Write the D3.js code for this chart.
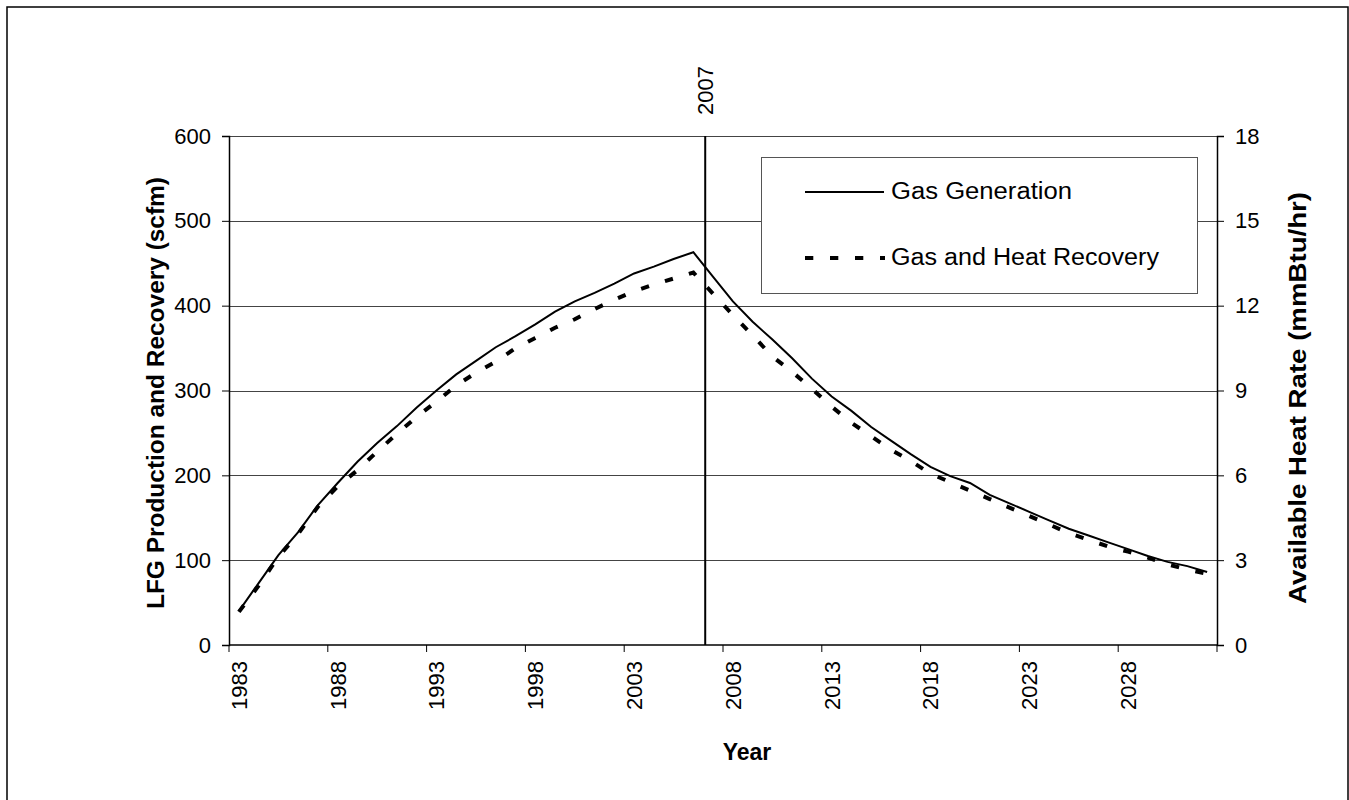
<!DOCTYPE html>
<html>
<head>
<meta charset="utf-8">
<script src="https://cdn.jsdelivr.net/npm/d3@7"></script>
<style>
  html, body { margin: 0; padding: 0; background: #fff; }
  svg text { font-family: Arial, "Liberation Sans", sans-serif; fill: #000; }
</style>
</head>
<body>
<svg id="chart" width="1349" height="800"></svg>
<script>
// ---- data ----
const years = d3.range(1983, 2033); // 1983..2032 categories
const tickYears = [1983, 1988, 1993, 1998, 2003, 2008, 2013, 2018, 2023, 2028];
const gasGeneration = [40, 73, 106, 133, 165, 191, 216, 238, 258, 280,
  300, 319, 335, 351, 364, 378, 393, 405, 415, 426,
  438, 446, 455, 463, 434, 405, 381, 360, 338, 314,
  293, 276, 257, 241, 225, 210, 199, 191, 177, 167,
  157, 147, 137, 129, 121, 113, 105, 98, 93, 86];
// Gas and Heat Recovery, read on the right axis (mmBtu/hr)
const heatRecovery = [1.17, 2.10, 3.12, 3.93, 4.89, 5.61, 6.18, 6.84, 7.47, 8.07,
  8.61, 9.18, 9.63, 10.02, 10.50, 10.86, 11.22, 11.52, 11.88, 12.21,
  12.51, 12.75, 12.96, 13.17, 12.42, 11.67, 10.95, 10.20, 9.66, 9.06,
  8.43, 7.86, 7.38, 6.90, 6.51, 6.06, 5.76, 5.46, 5.16, 4.86,
  4.56, 4.26, 3.96, 3.72, 3.48, 3.30, 3.09, 2.85, 2.67, 2.52];
const leftTicks = [0, 100, 200, 300, 400, 500, 600];
const rightTicks = [0, 3, 6, 9, 12, 15, 18];
const markerYear = 2007;
const seriesNames = ["Gas Generation", "Gas and Heat Recovery"];

// ---- layout ----
const FONT = "Arial, 'Liberation Sans', sans-serif";
const svg = d3.select("#chart");
const L = 229, R = 1217, T = 136, B = 645;

svg.append("rect").attr("x", 7).attr("y", 7).attr("width", 1341).attr("height", 800)
  .attr("fill", "#fff").attr("stroke", "#000").attr("stroke-width", 1.5);

const x = d3.scaleBand().domain(years).range([L, R]).paddingInner(0).paddingOuter(0);
const xc = d => x(d) + x.bandwidth() / 2;
const yL = d3.scaleLinear().domain([0, 600]).range([B, T]);
const yR = d3.scaleLinear().domain([0, 18]).range([B, T]);

// gridlines
svg.append("g").selectAll("line").data(leftTicks.filter(v => v > 0)).join("line")
  .attr("x1", L).attr("x2", R)
  .attr("y1", d => Math.round(yL(d)) + 0.5).attr("y2", d => Math.round(yL(d)) + 0.5)
  .attr("stroke", "#444").attr("stroke-width", 1);

// left axis
const gL = svg.append("g").attr("transform", `translate(${L},0)`)
  .call(d3.axisLeft(yL).tickValues(leftTicks).tickSize(7).tickPadding(11).tickFormat(d3.format("d")));
gL.select(".domain").attr("stroke", "#000").attr("stroke-width", 1.5);
gL.selectAll(".tick line").attr("stroke", "#000");
gL.selectAll("text").attr("font-size", 22).attr("font-family", FONT);

// right axis
const gR = svg.append("g").attr("transform", `translate(${R},0)`)
  .call(d3.axisRight(yR).tickValues(rightTicks).tickSize(7).tickPadding(11).tickFormat(d3.format("d")));
gR.select(".domain").attr("stroke", "#000").attr("stroke-width", 1.5);
gR.selectAll(".tick line").attr("stroke", "#000");
gR.selectAll("text").attr("font-size", 22).attr("font-family", FONT);

// bottom axis: ticks at category boundaries
const xb = d3.scaleLinear().domain([1983, 2033]).range([L, R]);
const gB = svg.append("g").attr("transform", `translate(0,${B})`);
gB.append("line").attr("x1", L).attr("x2", R).attr("y1", 0).attr("y2", 0)
  .attr("stroke", "#000").attr("stroke-width", 1.5);
gB.selectAll("line.tk").data(tickYears.concat([2033])).join("line").attr("class", "tk")
  .attr("x1", d => xb(d)).attr("x2", d => xb(d)).attr("y1", 0).attr("y2", 7)
  .attr("stroke", "#000").attr("stroke-width", 1);
gB.selectAll("text").data(tickYears).join("text")
  .attr("transform", d => `translate(${xc(d) + 8},16) rotate(-90)`)
  .attr("text-anchor", "end").attr("font-size", 22).text(d => d);

// 2007 marker
svg.append("line").attr("x1", xb(markerYear + 0.1)).attr("x2", xb(markerYear + 0.1))
  .attr("y1", T).attr("y2", B).attr("stroke", "#000").attr("stroke-width", 2);
svg.append("text").attr("transform", `translate(${xb(markerYear + 0.1) + 8},115) rotate(-90)`)
  .attr("font-size", 22).text(markerYear);

// legend
const lg = svg.append("g");
lg.append("rect").attr("x", 761.5).attr("y", 157.5).attr("width", 436).attr("height", 136)
  .attr("fill", "#fff").attr("stroke", "#555").attr("stroke-width", 1);
lg.append("line").attr("x1", 805).attr("x2", 884).attr("y1", 192).attr("y2", 192)
  .attr("stroke", "#000").attr("stroke-width", 2);
lg.append("text").attr("x", 891).attr("y", 199).attr("font-size", 23.5)
  .attr("textLength", 181).attr("lengthAdjust", "spacingAndGlyphs").text(seriesNames[0]);
lg.append("line").attr("x1", 805).attr("x2", 885).attr("y1", 258).attr("y2", 258)
  .attr("stroke", "#000").attr("stroke-width", 4).attr("stroke-dasharray", "8.3,16.7");
lg.append("text").attr("x", 891).attr("y", 265).attr("font-size", 23.5)
  .attr("textLength", 268).attr("lengthAdjust", "spacingAndGlyphs").text(seriesNames[1]);

// lines
const lineL = d3.line().x((d, i) => xc(years[i])).y(d => yL(d));
const lineR = d3.line().x((d, i) => xc(years[i])).y(d => yR(d));
svg.append("path").datum(heatRecovery).attr("d", lineR).attr("fill", "none")
  .attr("stroke", "#000").attr("stroke-width", 4).attr("stroke-dasharray", "8.3,16.7");
svg.append("path").datum(gasGeneration).attr("d", lineL).attr("fill", "none")
  .attr("stroke", "#000").attr("stroke-width", 2);

// axis titles
svg.append("text").attr("transform", `translate(164,393) rotate(-90)`)
  .attr("text-anchor", "middle").attr("font-size", 24).attr("font-weight", "bold")
  .attr("textLength", 432).attr("lengthAdjust", "spacingAndGlyphs")
  .text("LFG Production and Recovery (scfm)");
svg.append("text").attr("transform", `translate(1306,398) rotate(-90)`)
  .attr("text-anchor", "middle").attr("font-size", 24).attr("font-weight", "bold")
  .attr("textLength", 412).attr("lengthAdjust", "spacingAndGlyphs")
  .text("Available Heat Rate (mmBtu/hr)");
svg.append("text").attr("x", 747).attr("y", 760).attr("text-anchor", "middle")
  .attr("font-size", 23).attr("font-weight", "bold").text("Year");
</script>
</body>
</html>
